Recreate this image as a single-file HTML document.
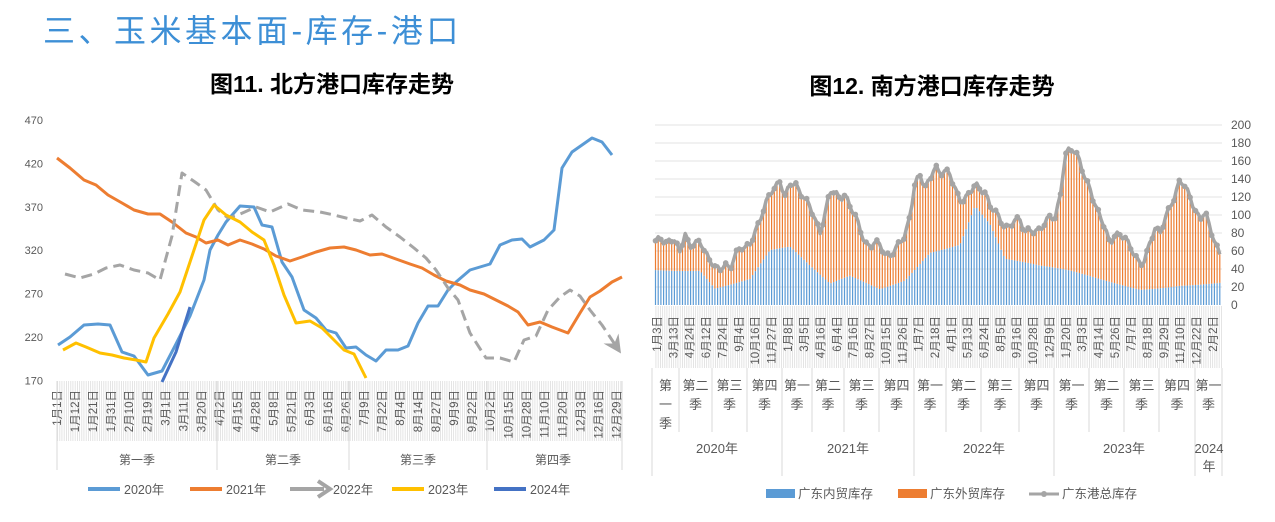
<!DOCTYPE html>
<html><head><meta charset="utf-8"><style>
body{margin:0;background:#fff;width:1275px;height:522px;overflow:hidden;font-family:"Liberation Sans","Noto Sans CJK SC",sans-serif}
svg{position:absolute;left:0;top:0}
</style></head><body>
<svg id="s" width="1275" height="522" xmlns="http://www.w3.org/2000/svg" font-family="Liberation Sans, Noto Sans CJK SC, sans-serif">
<defs>
<pattern id="vg" width="2.2" height="10" patternUnits="userSpaceOnUse"><rect x="0" y="0" width="0.7" height="10" fill="#d9d9d9"/></pattern>
<marker id="arr" markerWidth="6" markerHeight="6" refX="3" refY="3" orient="auto" markerUnits="strokeWidth"><path d="M0,0 L6,3 L0,6 L2,3 Z" fill="#a5a5a5"/></marker>
</defs>
<text x="43" y="42" font-size="32" letter-spacing="3.5" fill="#3D8FD6">三、玉米基本面-库存-港口</text>
<text x="332" y="92" font-size="23" font-weight="bold" text-anchor="middle" fill="#000">图11. 北方港口库存走势</text>
<text x="932" y="94" font-size="23" font-weight="bold" text-anchor="middle" fill="#000">图12. 南方港口库存走势</text>
<g id="L"></g><g id="R"></g>
</svg>
<script>
var NS="http://www.w3.org/2000/svg";
function el(p,t,a,txt){var e=document.createElementNS(NS,t);for(var k in a)e.setAttribute(k,a[k]);if(txt!=null)e.textContent=txt;p.appendChild(e);return e;}
var L=document.getElementById('L'),R=document.getElementById('R');
// LEFT
var ys=[470,420,370,320,270,220,170];
ys.forEach(function(v,i){el(L,'text',{x:43,y:124+i*43.4,'font-size':11,fill:'#595959','text-anchor':'end'},v);});
el(L,'rect',{x:57,y:381,width:565,height:60,fill:'url(#vg)'});
var labs="1月1日,1月12日,1月21日,1月31日,2月10日,2月19日,3月1日,3月11日,3月20日,4月2日,4月15日,4月28日,5月8日,5月21日,6月3日,6月16日,6月26日,7月9日,7月22日,8月4日,8月14日,8月27日,9月9日,9月22日,10月2日,10月15日,10月28日,11月10日,11月20日,12月3日,12月16日,12月29日".split(',');
labs.forEach(function(t,i){var x=61+i*18.05;el(L,'text',{x:0,y:0,'font-size':11.5,fill:'#595959','text-anchor':'end',transform:'translate('+x+',390) rotate(-90)'},t);});
[57,217,349,487,622].forEach(function(x){el(L,'line',{x1:x,y1:381,x2:x,y2:470,stroke:'#d9d9d9'});});
[[137,'第一季'],[283,'第二季'],[418,'第三季'],[553,'第四季']].forEach(function(a){el(L,'text',{x:a[0],y:464,'font-size':12,fill:'#595959','text-anchor':'middle'},a[1]);});
function pl(p,pts,c,w,extra){var a={points:pts,fill:'none',stroke:c,'stroke-width':w,'stroke-linejoin':'round'};for(var k in extra)a[k]=extra[k];el(p,'polyline',a);}
pl(L,"58,345 70,337 84,325 98,324 110,325 122,352 134,356 148,375 162,371 176,344 190,316 204,280 210,250 218,235 226,222 240,206 254,207 262,225 272,227 282,262 292,277 304,310 316,318 326,330 336,333 346,348 356,347 366,355 376,361 386,350 398,350 408,346 418,323 428,306 438,306 448,290 456,282 470,270 490,264 500,245 512,240 522,239 530,247 544,240 554,230 562,168 572,152 582,145 592,138 602,142 612,155",'#5B9BD5',3);
pl(L,"57,158 70,168 84,180 96,185 108,195 122,203 134,210 148,214 160,214 172,222 186,233 196,237 206,243 218,240 228,245 240,240 252,244 264,249 276,256 290,261 302,257 316,252 330,248 344,247 356,250 370,255 382,254 396,259 410,264 422,268 434,275 446,281 460,285 470,290 484,294 496,300 508,306 518,312 528,325 540,322 552,327 568,333 580,313 590,297 600,291 612,282 622,277",'#ED7D31',3);
pl(L,"65,274 80,278 94,274 106,268 120,265 134,270 148,273 160,280 172,236 182,173 195,182 206,190 218,210 228,218 238,215 256,207 270,212 288,204 302,210 320,212 334,215 346,218 360,221 372,215 386,227 400,237 414,248 426,258 436,270 448,288 458,300 470,333 486,358 500,358 514,362 524,340 536,336 548,310 560,297 570,290 580,296 590,310 602,325 616,346",'#A5A5A5',3,{'stroke-dasharray':'11,6','marker-end':'url(#arr)'});
pl(L,"63,350 76,343 86,347 100,353 112,355 124,358 136,360 146,362 154,338 168,314 180,292 190,262 204,220 214,205 226,215 240,222 252,232 264,240 274,265 284,295 296,323 310,321 322,328 334,340 344,350 354,354 366,378",'#FFC000',3);
pl(L,"162,382 176,352 190,307",'#4472C4',3);
var lg=[[88,'#5B9BD5','2020年'],[190,'#ED7D31','2021年'],[290,'#A5A5A5','2022年'],[392,'#FFC000','2023年'],[494,'#4472C4','2024年']];
lg.forEach(function(a,i){if(i==2){el(L,'line',{x1:a[0],y1:489,x2:a[0]+34,y2:489,stroke:a[1],'stroke-width':4});el(L,'path',{d:'M318,481 L330,489 L318,497',fill:'none',stroke:a[1],'stroke-width':4});}else el(L,'line',{x1:a[0],y1:489,x2:a[0]+32,y2:489,stroke:a[1],'stroke-width':4});
el(L,'text',{x:a[0]+(i==2?43:36),y:494,'font-size':12.5,fill:'#595959'},a[2]);});
// RIGHT
for(var v=0;v<=200;v+=20){el(R,'text',{x:1231,y:309-v*0.9,'font-size':12,fill:'#595959'},v);
if(v>0)el(R,'line',{x1:655,y1:305-v*0.9,x2:1222,y2:305-v*0.9,stroke:'#e3e3e3','stroke-width':1});}
el(R,'rect',{x:655,y:306,width:567,height:62,fill:'url(#vg)'});
var kt=[[655,68],[660,78],[665,65],[670,75],[675,70],[680,60],[685,78],[690,65],[695,68],[700,72],[705,58],[710,50],[715,42],[720,40],[725,45],[730,40],[735,55],[740,65],[745,63],[750,68],[755,80],[760,95],[765,110],[770,125],[775,130],[780,138],[785,120],[790,135],[795,135],[800,125],[805,118],[810,110],[815,95],[820,80],[825,100],[830,128],[835,125],[840,118],[845,122],[850,110],[855,100],[860,85],[865,68],[870,65],[875,70],[880,68],[885,55],[890,55],[895,60],[900,72],[905,75],[910,100],[915,135],[920,145],[925,130],[930,140],[935,155],[940,145],[945,150],[950,145],[955,130],[960,115],[965,118],[970,125],[975,135],[980,128],[985,125],[990,110],[995,105],[1000,95],[1005,85],[1010,88],[1015,95],[1020,95],[1025,80],[1030,85],[1035,80],[1040,85],[1045,90],[1050,100],[1055,95],[1060,120],[1065,165],[1070,175],[1075,170],[1080,160],[1085,140],[1090,130],[1095,110],[1100,100],[1105,85],[1110,68],[1115,78],[1120,78],[1125,75],[1130,65],[1135,55],[1140,45],[1145,50],[1150,70],[1155,85],[1160,80],[1165,95],[1170,110],[1175,120],[1180,140],[1185,132],[1190,120],[1195,105],[1200,95],[1205,105],[1210,85],[1215,70],[1220,55]];
var ki=[[655,40],[700,42],[715,22],[750,30],[770,60],[790,62],[810,40],[830,20],[850,30],[880,18],[905,30],[930,62],[960,70],[975,112],[990,90],[1005,50],[1040,40],[1070,35],[1100,28],[1140,20],[1180,25],[1222,25]];
function interp(k,x){for(var i=0;i<k.length-1;i++){if(x<=k[i+1][0]){var t=(x-k[i][0])/(k[i+1][0]-k[i][0]);return k[i][1]+t*(k[i+1][1]-k[i][1]);}}return k[k.length-1][1];}
var pts=[];
for(var x=655.5;x<=1221;x+=2.7){var tot=interp(kt,x)+Math.sin(x*1.7)*3;var inn=Math.min(interp(ki,x)+Math.sin(x*2.3)*4,tot-3);
el(R,'rect',{x:x-0.6,y:305-inn*0.9,width:1.2,height:inn*0.9,fill:'#5B9BD5'});
el(R,'rect',{x:x-0.6,y:305-tot*0.9,width:1.2,height:(tot-inn)*0.9,fill:'#ED7D31'});
pts.push([x,305-tot*0.9]);}
pl(R,pts.map(function(p){return p[0].toFixed(1)+','+p[1].toFixed(1)}).join(' '),'#A5A5A5',3.5);
pts.forEach(function(p,i){if(i%2==0)el(R,'circle',{cx:p[0],cy:p[1],r:2.8,fill:'#A5A5A5'});});
var rl="1月3日,3月13日,4月24日,6月12日,7月24日,9月4日,10月16日,11月27日,1月8日,3月5日,4月16日,6月4日,7月16日,8月27日,10月15日,11月26日,1月7日,2月18日,4月1日,5月13日,6月24日,8月5日,9月16日,10月28日,12月9日,1月20日,3月3日,4月14日,5月26日,7月7日,8月18日,9月29日,11月10日,12月22日,2月2日".split(',');
rl.forEach(function(t,i){var x=661+i*16.35;el(R,'text',{x:0,y:0,'font-size':11.5,fill:'#595959','text-anchor':'end',transform:'translate('+x+',316) rotate(-90)'},t);});
var qs=[652,679,712,747,782,812,844,879,914,946,981,1019,1054,1089,1124,1159,1195,1222];
var ysep=[652,782,914,1054,1195,1222];
qs.forEach(function(x){el(R,'line',{x1:x,y1:368,x2:x,y2:ysep.indexOf(x)>=0?476:432,stroke:'#d9d9d9'});});
var qn=['一','二','三','四'];
for(var i=0;i<17;i++){var cx=(qs[i]+qs[i+1])/2,q=qn[(i)%4];
if(i==0){['第','一','季'].forEach(function(c,j){el(R,'text',{x:cx,y:390+j*19,'font-size':13,fill:'#595959','text-anchor':'middle'},c);});}
else{el(R,'text',{x:cx,y:390,'font-size':13,fill:'#595959','text-anchor':'middle'},'第'+q);el(R,'text',{x:cx,y:409,'font-size':13,fill:'#595959','text-anchor':'middle'},'季');}}
[[717,'2020年'],[848,'2021年'],[984,'2022年'],[1124,'2023年']].forEach(function(a){el(R,'text',{x:a[0],y:453,'font-size':13,fill:'#595959','text-anchor':'middle'},a[1]);});
el(R,'text',{x:1209,y:453,'font-size':13,fill:'#595959','text-anchor':'middle'},'2024');
el(R,'text',{x:1209,y:471,'font-size':13,fill:'#595959','text-anchor':'middle'},'年');
el(R,'rect',{x:766,y:489,width:29,height:9,fill:'#5B9BD5'});el(R,'text',{x:798,y:498,'font-size':12.5,fill:'#595959'},'广东内贸库存');
el(R,'rect',{x:898,y:489,width:29,height:9,fill:'#ED7D31'});el(R,'text',{x:930,y:498,'font-size':12.5,fill:'#595959'},'广东外贸库存');
el(R,'line',{x1:1029,y1:494,x2:1059,y2:494,stroke:'#A5A5A5','stroke-width':3});el(R,'circle',{cx:1044,cy:494,r:3,fill:'#A5A5A5'});
el(R,'text',{x:1062,y:498,'font-size':12.5,fill:'#595959'},'广东港总库存');
</script>
</body></html>
